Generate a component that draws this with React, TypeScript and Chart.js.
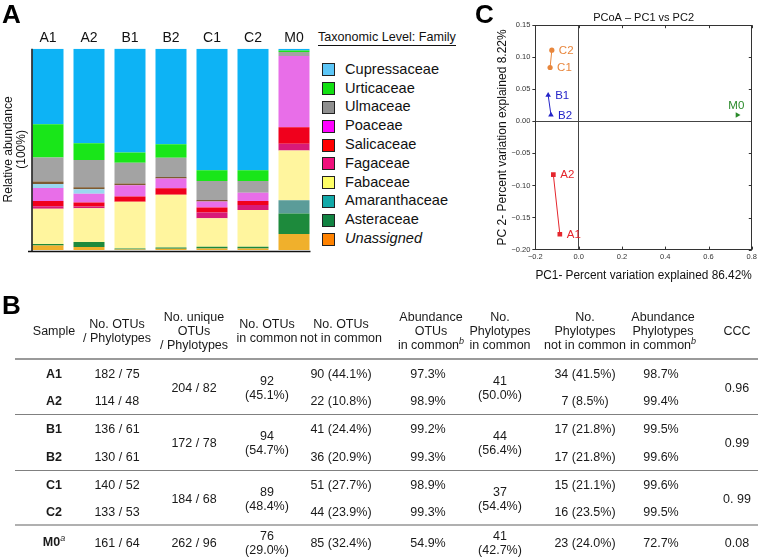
import React, { useEffect, useRef } from 'react';
import { Chart, registerables } from 'chart.js';

Chart.register(...registerables);

const FONT = "'Liberation Sans', Arial, Helvetica, sans-serif";
Chart.defaults.font.family = FONT;

// ---------------- Panel A data ----------------
const samples = ['A1', 'A2', 'B1', 'B2', 'C1', 'C2', 'M0'];
const families = ['Cupressaceae', 'Urticaceae', 'Ulmaceae', 'Poaceae', 'Salicaceae', 'Fagaceae', 'Fabaceae', 'Amaranthaceae', 'Asteraceae', 'Unassigned'];
const legendColors = ['#5cc6f7', '#12e012', '#8f8f8f', '#ff00ff', '#ff0000', '#f0107c', '#ffff66', '#12a9a9', '#118342', '#ff8200'];

// relative abundance (%) per family, one value per sample
const cupressaceae = [37.5, 47.0, 51.7, 47.5, 60.4, 60.4, 0.8];
const urticaceae = [16.5, 8.3, 5.0, 6.6, 5.3, 5.3, 0.8];
const ulmaceae = [12.0, 13.5, 10.4, 9.6, 9.4, 5.8, 2.0];
const minorOtherA = [1.2, 1.0, 0.8, 0.8, 0.8, 0, 0];
const minorOtherB = [2.0, 2.3, 0, 0, 0, 0, 0];
const poaceae = [6.5, 4.3, 5.6, 4.8, 3.0, 4.1, 35.4];
const salicaceae = [2.5, 2.0, 2.6, 3.3, 2.5, 2.0, 8.2];
const fagaceae = [1.3, 0.8, 0, 0, 2.8, 2.5, 3.3];
const fabaceae = [17.5, 16.8, 23.3, 26.1, 14.2, 18.3, 24.8];
const amaranthaceae = [0, 0, 0, 0, 0, 0, 6.6];
const asteraceae = [0.8, 2.5, 0.4, 0.7, 0.8, 0.8, 10.2];
const unassigned = [2.2, 1.5, 0.3, 0.6, 0.8, 0.8, 7.9];

// stacking order, bottom first
const stack = [
  { label: 'Unassigned', data: unassigned, color: '#f0b02c' },
  { label: 'Asteraceae', data: asteraceae, color: '#1d8a3c' },
  { label: 'Amaranthaceae', data: amaranthaceae, color: '#5b9c99' },
  { label: 'Fabaceae', data: fabaceae, color: '#fff59e' },
  { label: 'Fagaceae', data: fagaceae, color: '#d81a78' },
  { label: 'Salicaceae', data: salicaceae, color: '#f0001c' },
  { label: 'Poaceae', data: poaceae, color: '#e86ee8' },
  { label: 'Other (minor)', data: minorOtherB, color: '#9bd7ef' },
  { label: 'Other', data: minorOtherA, color: '#7d5a32' },
  { label: 'Ulmaceae', data: ulmaceae, color: '#a3a3a3' },
  { label: 'Urticaceae', data: urticaceae, color: '#19e619' },
  { label: 'Cupressaceae', data: cupressaceae, color: '#0db3f5' },
];

// ---------------- Panel C data ----------------
const labelsA = ['A1', 'A2'];
const pc1A = [-0.087, -0.117];
const pc2A = [-0.176, -0.083];
const labelsB = ['B1', 'B2'];
const pc1B = [-0.141, -0.128];
const pc2B = [0.041, 0.010];
const labelsC = ['C1', 'C2'];
const pc1C = [-0.132, -0.124];
const pc2C = [0.084, 0.111];
const labelsM = ['M0'];
const pc1M = [0.733];
const pc2M = [0.010];
const xTicksC = [-0.2, 0.8, 0.2];
const yTicksC = [-0.2, 0.15, 0.05];

// ---------------- Panel B data ----------------
const tableSamples = ['A1', 'A2', 'B1', 'B2', 'C1', 'C2', 'M0'];
const otusPhylotypes = ['182 / 75', '114 / 48', '136 / 61', '130 / 61', '140 / 52', '133 / 53', '161 / 64'];
const uniqueOtusPhylotypes = ['204 / 82', '172 / 78', '184 / 68', '262 / 96'];
const otusInCommon = ['92', '94', '89', '76'];
const otusInCommonPct = ['(45.1%)', '(54.7%)', '(48.4%)', '(29.0%)'];
const otusNotInCommon = ['90 (44.1%)', '22 (10.8%)', '41 (24.4%)', '36 (20.9%)', '51 (27.7%)', '44 (23.9%)', '85 (32.4%)'];
const abundanceOtusInCommon = ['97.3%', '98.9%', '99.2%', '99.3%', '98.9%', '99.3%', '54.9%'];
const phylotypesInCommon = ['41', '44', '37', '41'];
const phylotypesInCommonPct = ['(50.0%)', '(56.4%)', '(54.4%)', '(42.7%)'];
const phylotypesNotInCommon = ['34 (41.5%)', '7 (8.5%)', '17 (21.8%)', '17 (21.8%)', '15 (21.1%)', '16 (23.5%)', '23 (24.0%)'];
const abundancePhylotypesInCommon = ['98.7%', '99.4%', '99.5%', '99.6%', '99.6%', '99.5%', '72.7%'];
const cccValues = ['0.96', '0.99', '0. 99', '0.08'];
const headers = [
  ['Sample'],
  ['No. OTUs', '/ Phylotypes'],
  ['No. unique', 'OTUs', '/ Phylotypes'],
  ['No. OTUs', 'in common'],
  ['No. OTUs', 'not in common'],
  ['Abundance', 'OTUs', 'in common^b'],
  ['No.', 'Phylotypes', 'in common'],
  ['No.', 'Phylotypes', 'not in common'],
  ['Abundance', 'Phylotypes', 'in common^b'],
  ['CCC'],
];

// ---------------- plugins ----------------
const barAxisLines = {
  id: 'barAxisLines',
  afterDatasetsDraw(chart: any) {
    const meta = chart.getDatasetMeta(0);
    const first = meta.data[0];
    const last = meta.data[meta.data.length - 1];
    const y = chart.scales.y;
    const left = first.x - first.width / 2 - 0.5;
    const right = last.x + last.width / 2 + 1;
    const top = y.getPixelForValue(100);
    const bottom = y.getPixelForValue(0) + 1.5;
    const ctx = chart.ctx;
    ctx.save();
    ctx.strokeStyle = '#111';
    ctx.lineWidth = 1.5;
    ctx.beginPath();
    ctx.moveTo(left, top);
    ctx.lineTo(left, bottom);
    ctx.moveTo(left - 4, bottom);
    ctx.lineTo(right, bottom);
    ctx.stroke();
    ctx.restore();
  },
};

const frameTicks = {
  id: 'frameTicks',
  afterDraw(chart: any) {
    const { ctx, chartArea: a, scales } = chart;
    const x = scales.x;
    const y = scales.y;
    ctx.save();
    ctx.strokeStyle = '#333';
    ctx.lineWidth = 1;
    ctx.strokeRect(Math.round(a.left) + 0.5, Math.round(a.top) + 0.5, Math.round(a.right - a.left), Math.round(a.bottom - a.top));
    ctx.beginPath();
    x.ticks.forEach((t: any) => {
      const px = Math.round(x.getPixelForValue(t.value)) + 0.5;
      ctx.moveTo(px, a.top);
      ctx.lineTo(px, a.top + 3);
      ctx.moveTo(px, a.bottom);
      ctx.lineTo(px, a.bottom - 3);
    });
    y.ticks.forEach((t: any) => {
      const py = Math.round(y.getPixelForValue(t.value)) + 0.5;
      ctx.moveTo(a.right, py);
      ctx.lineTo(a.right - 3, py);
    });
    ctx.stroke();
    ctx.restore();
  },
};

const pointLabels = {
  id: 'pointLabels',
  afterDatasetsDraw(chart: any) {
    const ctx = chart.ctx;
    ctx.save();
    ctx.font = `11.5px ${FONT}`;
    chart.data.datasets.forEach((ds: any, i: number) => {
      const meta = chart.getDatasetMeta(i);
      ctx.fillStyle = ds.borderColor;
      meta.data.forEach((pt: any, j: number) => {
        const text = ds.pointNames[j];
        if (ds.labelPlacement === 'above') {
          ctx.textAlign = 'center';
          ctx.textBaseline = 'bottom';
          ctx.fillText(text, pt.x - 1, pt.y - 3);
        } else {
          ctx.textAlign = 'left';
          ctx.textBaseline = 'middle';
          ctx.fillText(text, pt.x + 7, pt.y + 0.5);
        }
      });
    });
    ctx.restore();
  },
};

const fmtTick = (v: number, digits: number) => {
  if (Math.abs(v) < 1e-9) return (0).toFixed(digits);
  return v < 0 ? '\u2212' + Math.abs(v).toFixed(digits) : v.toFixed(digits);
};

function BarPanel() {
  const ref = useRef<HTMLCanvasElement>(null);
  useEffect(() => {
    const chart = new Chart(ref.current as HTMLCanvasElement, {
      type: 'bar',
      data: {
        labels: samples,
        datasets: stack.map((s) => ({
          label: s.label,
          data: s.data,
          backgroundColor: s.color,
          borderWidth: 0,
          barPercentage: 0.756,
          categoryPercentage: 1,
        })),
      },
      options: {
        animation: false,
        responsive: false,
        layout: { padding: { top: 28, bottom: 12, left: 2.3, right: 1.5 } },
        plugins: { legend: { display: false }, tooltip: { enabled: false } },
        scales: {
          x: {
            position: 'top',
            stacked: true,
            grid: { display: false, drawTicks: false },
            border: { display: false },
            ticks: { font: { size: 14 }, color: '#111', padding: 2, maxRotation: 0 },
          },
          y: {
            stacked: true,
            min: 0,
            max: 100,
            grid: { display: false, drawTicks: false },
            border: { display: false },
            ticks: { display: false },
            title: {
              display: true,
              text: ['Relative abundance', '(100%)'],
              font: { size: 12, lineHeight: 1.05 },
              color: '#111',
              padding: 0,
            },
          },
        },
      } as any,
      plugins: [barAxisLines],
    });
    return () => chart.destroy();
  }, []);
  return <canvas ref={ref} width={316} height={262} style={{ position: 'absolute', left: 0, top: 0 }} />;
}

function PcoaPanel() {
  const ref = useRef<HTMLCanvasElement>(null);
  useEffect(() => {
    const mk = (xs: number[], ys: number[]) => xs.map((x, i) => ({ x, y: ys[i] }));
    const chart = new Chart(ref.current as HTMLCanvasElement, {
      type: 'scatter',
      data: {
        datasets: [
          { label: 'A', data: mk(pc1A, pc2A), pointNames: labelsA, showLine: true, borderColor: '#e5262d', backgroundColor: '#e5262d', pointStyle: 'rect', pointRadius: 3.3, borderWidth: 1, pointBorderWidth: 0 },
          { label: 'B', data: mk(pc1B, pc2B), pointNames: labelsB, showLine: true, borderColor: '#2424c8', backgroundColor: '#2424c8', pointStyle: 'triangle', pointRadius: 3.2, borderWidth: 1, pointBorderWidth: 0 },
          { label: 'C', data: mk(pc1C, pc2C), pointNames: labelsC, showLine: true, borderColor: '#e8863c', backgroundColor: '#e8863c', pointStyle: 'circle', pointRadius: 2.6, borderWidth: 1, pointBorderWidth: 0 },
          { label: 'M0', data: mk(pc1M, pc2M), pointNames: labelsM, labelPlacement: 'above', showLine: false, borderColor: '#2a8a2a', backgroundColor: '#2a8a2a', pointStyle: 'triangle', pointRotation: 90, pointRadius: 3.2, borderWidth: 1, pointBorderWidth: 0 },
        ] as any,
      },
      options: {
        animation: false,
        responsive: false,
        layout: { padding: { top: 0, bottom: 3, left: 18, right: 5.7 } },
        plugins: {
          legend: { display: false },
          tooltip: { enabled: false },
          title: {
            display: true,
            fullSize: false,
            text: 'PCoA \u2013 PC1 vs PC2',
            font: { size: 11, weight: 'normal' },
            color: '#111',
            padding: { top: 11, bottom: 1 },
          },
        },
        scales: {
          x: {
            type: 'linear',
            min: xTicksC[0],
            max: xTicksC[1],
            ticks: { stepSize: xTicksC[2], font: { size: 7.5 }, color: '#333', padding: 3, maxRotation: 0, callback: (v: any) => fmtTick(Number(v), 1) },
            grid: { color: (c: any) => (c.tick && Math.abs(c.tick.value) < 1e-9 ? '#444' : 'rgba(0,0,0,0)'), drawTicks: false, lineWidth: 1 },
            border: { color: '#333' },
            title: { display: true, text: 'PC1- Percent variation explained 86.42%', font: { size: 12 }, color: '#111', padding: { top: 4, bottom: 4 } },
          },
          y: {
            type: 'linear',
            min: yTicksC[0],
            max: yTicksC[1],
            ticks: { stepSize: yTicksC[2], font: { size: 7.5 }, color: '#333', padding: 2, callback: (v: any) => fmtTick(Number(v), 2) },
            grid: { color: (c: any) => (c.tick && Math.abs(c.tick.value) < 1e-9 ? '#444' : 'rgba(0,0,0,0)'), tickColor: '#333', tickLength: 3, lineWidth: 1 },
            border: { color: '#333' },
            title: { display: true, text: 'PC 2- Percent variation explained 8.22%', font: { size: 12 }, color: '#111', padding: { top: 7, bottom: 0 } },
          },
        },
      } as any,
      plugins: [frameTicks, pointLabels],
    });
    return () => chart.destroy();
  }, []);
  return <canvas ref={ref} width={290} height={290} style={{ position: 'absolute', left: 470, top: 0 }} />;
}

const abs = (x: number, y: number, extra: React.CSSProperties = {}): React.CSSProperties => ({
  position: 'absolute',
  left: x,
  top: y,
  transform: 'translate(-50%, -50%)',
  whiteSpace: 'nowrap',
  textAlign: 'center',
  ...extra,
});

function renderHeaderLine(line: string) {
  if (line.endsWith('^b')) {
    return (
      <>
        {line.slice(0, -2)}
        <span style={{ fontStyle: 'italic', fontSize: 9, position: 'relative', top: -5 }}>b</span>
      </>
    );
  }
  return line;
}

function Table() {
  const colX = [54, 117, 194, 267, 341, 431, 500, 585, 663, 737];
  const cells: React.ReactNode[] = [];
  const textColor = '#1a1a1a';
  headers.forEach((h, c) => {
    cells.push(
      <div key={'h' + c} style={abs(colX[c], 331, { lineHeight: '14px' })}>
        {h.map((l, k) => (
          <div key={k}>{renderHeaderLine(l)}</div>
        ))}
      </div>
    );
  });
  const groupTop = (g: number) => 359 + g * 55.5;
  tableSamples.forEach((s, i) => {
    const g = Math.floor(i / 2);
    const r = i % 2;
    const y = g < 3 ? groupTop(g) + 14.5 + r * 27.5 : groupTop(3) + 17;
    cells.push(
      <div key={'s' + i} style={abs(colX[0], y, { fontWeight: 'bold' })}>
        {s}
        {s === 'M0' && <span style={{ fontStyle: 'italic', fontWeight: 'normal', fontSize: 9, position: 'relative', top: -5 }}>a</span>}
      </div>
    );
    cells.push(<div key={'o' + i} style={abs(colX[1], y)}>{otusPhylotypes[i]}</div>);
    cells.push(<div key={'n' + i} style={abs(colX[4], y)}>{otusNotInCommon[i]}</div>);
    cells.push(<div key={'ab' + i} style={abs(colX[5] - 3, y)}>{abundanceOtusInCommon[i]}</div>);
    cells.push(<div key={'pn' + i} style={abs(colX[7], y)}>{phylotypesNotInCommon[i]}</div>);
    cells.push(<div key={'pa' + i} style={abs(colX[8] - 2, y)}>{abundancePhylotypesInCommon[i]}</div>);
  });
  uniqueOtusPhylotypes.forEach((u, g) => {
    const y = g < 3 ? groupTop(g) + 28.5 : groupTop(3) + 17;
    cells.push(<div key={'u' + g} style={abs(colX[2], y)}>{u}</div>);
    cells.push(
      <div key={'c' + g} style={abs(colX[3], y, { lineHeight: '14px' })}>
        <div>{otusInCommon[g]}</div>
        <div>{otusInCommonPct[g]}</div>
      </div>
    );
    cells.push(
      <div key={'p' + g} style={abs(colX[6], y, { lineHeight: '14px' })}>
        <div>{phylotypesInCommon[g]}</div>
        <div>{phylotypesInCommonPct[g]}</div>
      </div>
    );
    cells.push(<div key={'k' + g} style={abs(colX[9], y)}>{cccValues[g]}</div>);
  });
  const rules = [
    { y: 358.5, h: 2, c: '#9a9a9a' },
    { y: 414.5, h: 1, c: '#808080' },
    { y: 470, h: 1, c: '#808080' },
    { y: 525, h: 2, c: '#b0b0b0' },
  ];
  return (
    <div style={{ position: 'absolute', left: 0, top: 0, width: 760, height: 557, fontSize: 12.5, color: textColor, lineHeight: '15px' }}>
      {rules.map((r, i) => (
        <div key={'r' + i} style={{ position: 'absolute', left: 15, width: 743, top: r.y - r.h / 2, height: r.h, background: r.c }} />
      ))}
      {cells}
    </div>
  );
}

function Legend() {
  return (
    <div style={{ position: 'absolute', left: 0, top: 0 }}>
      <div style={{ position: 'absolute', left: 318, top: 30, fontSize: 12.6, lineHeight: '15px', color: '#111', whiteSpace: 'nowrap', borderBottom: '1.5px solid #111', paddingBottom: 0 }}>
        Taxonomic Level: Family
      </div>
      {families.map((f, i) => {
        const cy = 69.3 + i * 18.8;
        return (
          <React.Fragment key={f}>
            <div style={{ position: 'absolute', left: 322, top: cy - 6, width: 11, height: 11, background: legendColors[i], border: '1px solid #222' }} />
            <div style={{ position: 'absolute', left: 345, top: cy - 8.5, fontSize: 14.6, lineHeight: '17px', color: '#111', whiteSpace: 'nowrap', fontStyle: f === 'Unassigned' ? 'italic' : 'normal' }}>
              {f}
            </div>
          </React.Fragment>
        );
      })}
    </div>
  );
}

export default function App() {
  const panelLetter = (t: string, x: number, y: number) => (
    <div style={{ position: 'absolute', left: x, top: y, fontSize: 26, fontWeight: 'bold', lineHeight: '26px', color: '#000' }}>{t}</div>
  );
  return (
    <div style={{ position: 'relative', width: 760, height: 557, overflow: 'hidden', background: '#fff', fontFamily: FONT }}>
      <style>{'body{margin:0;}'}</style>
      <BarPanel />
      <Legend />
      <PcoaPanel />
      <Table />
      {panelLetter('A', 2, 1)}
      {panelLetter('B', 2, 292)}
      {panelLetter('C', 475, 1)}
    </div>
  );
}
